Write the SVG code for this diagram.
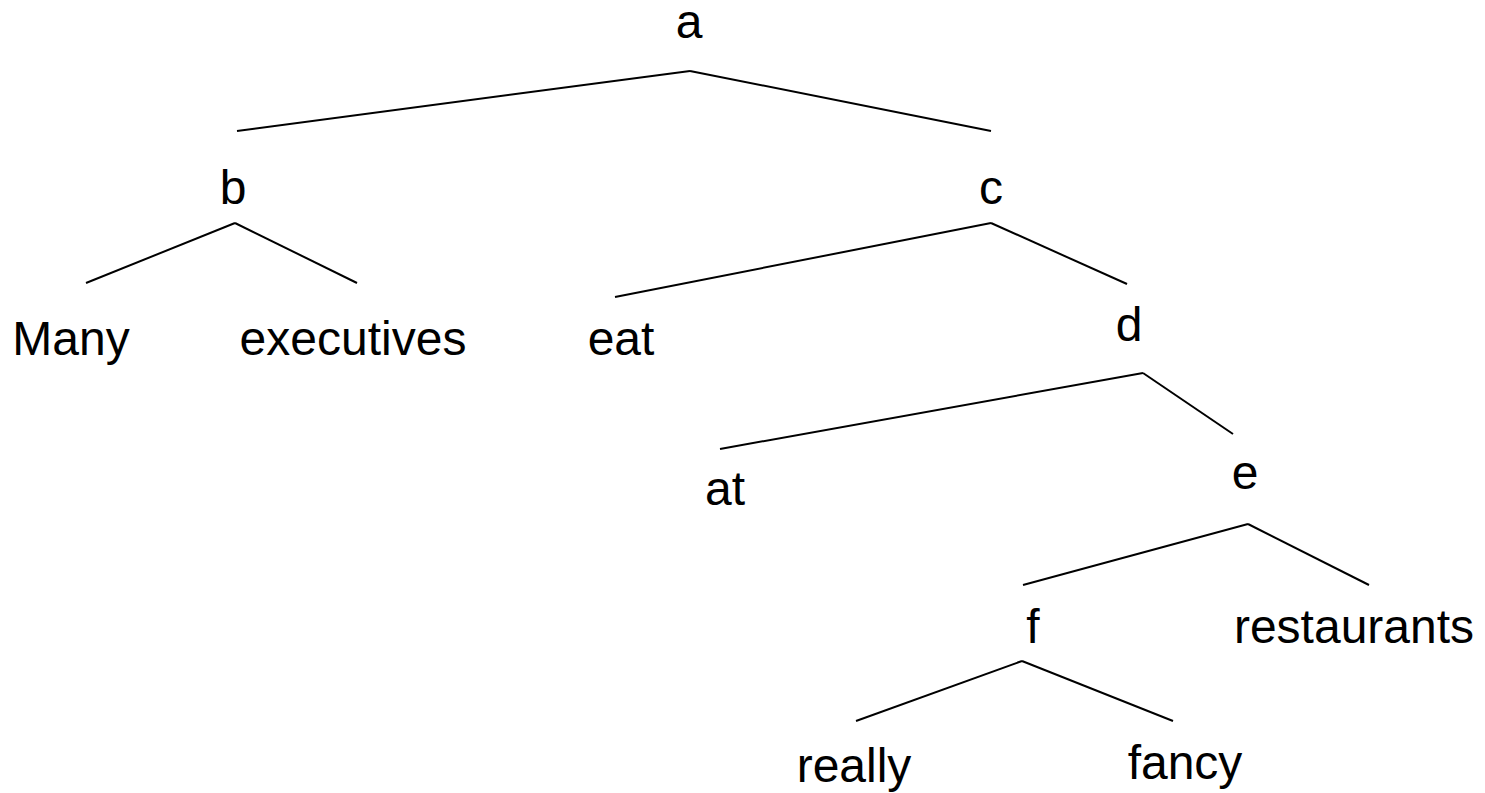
<svg xmlns="http://www.w3.org/2000/svg" width="1485" height="793" viewBox="0 0 1485 793">
<style>
text{font-family:"Liberation Sans",Arial,sans-serif;font-size:48px;fill:#000;text-anchor:middle}
line{stroke:#000;stroke-width:2}
</style>
<rect width="1485" height="793" fill="#fff"/>
<g id="connectors">
<line x1="690" y1="71" x2="237" y2="131"/>
<line x1="690" y1="71" x2="991" y2="131"/>
<line x1="235" y1="223" x2="86" y2="283"/>
<line x1="235" y1="223" x2="357" y2="283"/>
<line x1="991" y1="223" x2="615" y2="297"/>
<line x1="991" y1="223" x2="1127" y2="284"/>
<line x1="1143" y1="373" x2="720" y2="449"/>
<line x1="1143" y1="373" x2="1233" y2="434"/>
<line x1="1248" y1="524" x2="1023" y2="585"/>
<line x1="1248" y1="524" x2="1369" y2="585"/>
<line x1="1022" y1="661" x2="856" y2="721"/>
<line x1="1022" y1="661" x2="1173" y2="721"/>
</g>
<g id="node-a"><text x="689" y="38">a</text></g>
<g id="node-b"><text x="233" y="204">b</text></g>
<g id="node-c"><text x="991" y="204">c</text></g>
<g id="node-many"><text x="71" y="355">Many</text></g>
<g id="node-executives"><text x="353" y="355">executives</text></g>
<g id="node-eat"><text x="621" y="355">eat</text></g>
<g id="node-d"><text x="1129" y="341">d</text></g>
<g id="node-at"><text x="725" y="505">at</text></g>
<g id="node-e"><text x="1245" y="489">e</text></g>
<g id="node-f"><text x="1033" y="643">f</text></g>
<g id="node-restaurants"><text x="1354" y="643">restaurants</text></g>
<g id="node-really"><text x="854" y="782">really</text></g>
<g id="node-fancy"><text x="1185" y="779">fancy</text></g>
</svg>
